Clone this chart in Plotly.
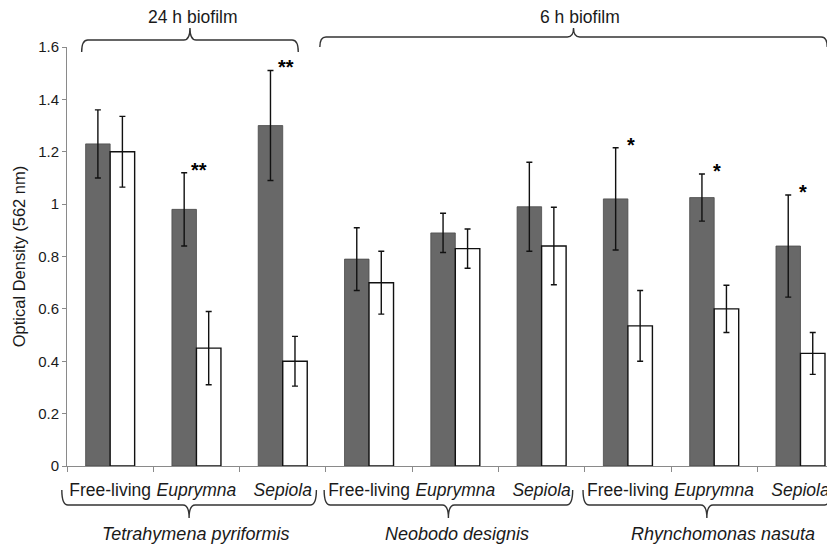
import plotly.graph_objects as go

# ---------------- data ----------------
groups = ["Free-living", "<i>Euprymna</i>", "<i>Sepiola</i>"] * 3
species = ["<i>Tetrahymena pyriformis</i>", "<i>Neobodo designis</i>", "<i>Rhynchomonas nasuta</i>"]
biofilm = ["24 h biofilm", "6 h biofilm"]

dark_vals = [1.23, 0.98, 1.30, 0.79, 0.89, 0.99, 1.02, 1.025, 0.84]
dark_err = [0.13, 0.14, 0.21, 0.12, 0.075, 0.17, 0.195, 0.09, 0.195]
white_vals = [1.20, 0.45, 0.40, 0.70, 0.83, 0.84, 0.535, 0.60, 0.43]
white_err = [0.135, 0.14, 0.095, 0.12, 0.075, 0.148, 0.135, 0.09, 0.08]

star_cats = [1, 2, 6, 7, 8]
star_text = ["**", "**", "*", "*", "*"]

# ---------------- layout constants ----------------
# the page body has an 8px margin, so the figure is offset by 8px
OFF = 8
W, H = 835 - OFF, 545 - OFF
XMIN, XMAX = -0.5, 8.4
ML, MR, MT, MB = 67 - OFF, 0, 47 - OFF, 79
FONT = "Liberation Sans, Arial, sans-serif"
TXT = "#1a1a1a"
AX = "#8a8a8a"

x = list(range(len(dark_vals)))

fig = go.Figure()
fig.add_trace(go.Bar(
    x=x, y=dark_vals, marker=dict(color="#686868", line=dict(color="#4a4a4a", width=0.8)),
    error_y=dict(type="data", array=dark_err, color="#111111", thickness=1.4, width=3),
    showlegend=False))
fig.add_trace(go.Bar(
    x=x, y=white_vals, marker=dict(color="#ffffff", line=dict(color="#111111", width=1.4)),
    error_y=dict(type="data", array=white_err, color="#111111", thickness=1.4, width=3),
    showlegend=False))


def cx(c):
    return (c - XMIN) / (XMAX - XMIN)


def py(p):
    # page pixel y -> paper y
    return (545 - MB - p) / (H - MT - MB)


def brace(c0, c1, yend, yline, ytip, r=0.008):
    x0, x1 = cx(c0), cx(c1)
    xm = (x0 + x1) / 2
    return (f"M {x0},{yend} Q {x0},{yline} {x0 + r},{yline} L {xm - r},{yline} "
            f"Q {xm},{yline} {xm},{ytip} Q {xm},{yline} {xm + r},{yline} "
            f"L {x1 - r},{yline} Q {x1},{yline} {x1},{yend}")


shapes = []
top_braces = [(-0.33, 2.18, 52, 40), (2.43, 8.31, 47, 37)]
for c0, c1, ye, yl in top_braces:
    shapes.append(dict(type="path", xref="paper", yref="paper",
                       path=brace(c0, c1, py(ye), py(yl), py(28)),
                       line=dict(color="#333333", width=1.4)))
bot_braces = [(-0.56, 2.39), (2.48, 5.36), (5.48, 8.35)]
for c0, c1 in bot_braces:
    shapes.append(dict(type="path", xref="paper", yref="paper",
                       path=brace(c0, c1, py(490), py(505), py(518)),
                       line=dict(color="#333333", width=1.4)))

annotations = []
for label, c in zip(biofilm, [0.96, 5.45]):
    annotations.append(dict(text=label, x=cx(c), y=py(17), xref="paper", yref="paper",
                            xanchor="center", yanchor="middle",
                            showarrow=False, font=dict(size=17.5, color=TXT, family=FONT)))
for label, c in zip(species, [0.99, 4.02, 7.10]):
    annotations.append(dict(text=label, x=cx(c), y=py(534), xref="paper", yref="paper",
                            xanchor="center", yanchor="middle",
                            showarrow=False, font=dict(size=18, color=TXT, family=FONT)))
for c, t in zip(star_cats, star_text):
    annotations.append(dict(text=f"<b>{t}</b>", x=c, y=dark_vals[c] + dark_err[c] + 0.012,
                            xref="x", yref="y", xanchor="center",
                            xshift=3, yanchor="middle", showarrow=False,
                            font=dict(size=20, color="#000000", family=FONT)))

fig.update_layout(
    width=W, height=H,
    margin=dict(l=ML, r=MR, t=MT, b=MB),
    paper_bgcolor="white", plot_bgcolor="white",
    barmode="group", bargap=0.432, bargroupgap=0,
    font=dict(family=FONT, color=TXT),
    shapes=shapes, annotations=annotations,
    xaxis=dict(
        range=[XMIN, XMAX], showgrid=False, zeroline=False,
        showline=True, linecolor=AX, linewidth=1,
        tickmode="array", tickvals=x, ticktext=groups, ticks="",
        tickfont=dict(size=17.5, color=TXT, family=FONT), ticklabelstandoff=8,
        minor=dict(tickmode="array", tickvals=[i - 0.5 for i in range(10)],
                   ticks="outside", ticklen=5, tickcolor=AX, tickwidth=1, showgrid=False),
    ),
    yaxis=dict(
        range=[0, 1.6], tickmode="linear", tick0=0, dtick=0.2,
        showgrid=False, zeroline=False,
        showline=True, linecolor=AX, linewidth=1,
        ticks="outside", ticklen=4, tickcolor=AX,
        tickfont=dict(size=15, color=TXT, family=FONT),
        title=dict(text="Optical Density (562 nm)", font=dict(size=16.5, color=TXT, family=FONT), standoff=8),
    ),
)

fig.write_html("out.html")
